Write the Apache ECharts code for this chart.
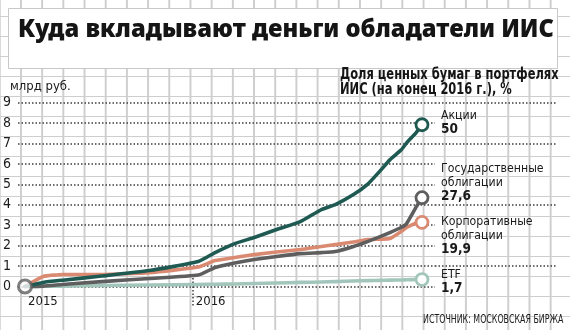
<!DOCTYPE html>
<html>
<head>
<meta charset="utf-8">
<script src="https://cdn.jsdelivr.net/npm/echarts@6/dist/echarts.min.js"></script>
<style>
  html, body { margin: 0; padding: 0; background: #fff; }
  /* graph-paper backdrop */
  #chart {
    width: 570px; height: 330px;
    background-color: #fff;
    background-image:
      linear-gradient(to right, #cecece 1.5px, transparent 1.5px),
      linear-gradient(to bottom, #cecece 1.5px, transparent 1.5px);
    background-size: 21.2px 20px;
    background-position: 20px 16px;
  }
</style>
</head>
<body>
<div id="chart"></div>
<script>
// Timeline position (months since the start of 2015)
const months = [0, 1.3, 2.7, 5.5, 8.9, 12.4, 13.6, 15, 16.4, 18, 19.7, 21.2, 22.2, 23.5, 24.5, 25.4, 26.1, 26.9, 27.3, 28, 28.4];

// Invested amounts, bn rubles
const stocks    = [0, 0.2, 0.31, 0.51, 0.78, 1.22, 1.66, 2.10, 2.40, 2.79, 3.18, 3.77, 4.01, 4.50, 5.0, 5.66, 6.2, 6.68, 7.03, 7.55, 7.92];
const govBonds  = [0, 0.02, 0.1, 0.24, 0.39, 0.56, 0.93, 1.15, 1.32, 1.47, 1.61, 1.66, 1.71, 1.96, 2.20, 2.44, 2.64, 2.89, 3.08, 3.91, 4.35];
const corpBonds = [0, 0.49, 0.59, 0.59, 0.68, 0.95, 1.27, 1.42, 1.56, 1.69, 1.81, 1.96, 2.05, 2.18, 2.30, 2.32, 2.35, 2.69, 2.89, 3.11, 3.14];
const etfs      = [0, 0.01, 0.02, 0.05, 0.07, 0.1, 0.11, 0.12, 0.15, 0.17, 0.2, 0.22, 0.24, 0.27, 0.29, 0.3, 0.31, 0.32, 0.33, 0.34, 0.34];

// Share in IIS portfolios at the end of 2016, %
const seriesNames = [['Акции'], ['Государственные', 'облигации'], ['Корпоративные', 'облигации'], ['ETF']];
const shares = ['50', '27,6', '19,9', '1,7'];

// Axis ticks
const yTicks = [0, 1, 2, 3, 4, 5, 6, 7, 8, 9];
const yearTicks = [0, 12];
const yearLabels = ['2015', '2016'];
const longGuideLevels = [1, 4, 7, 9];

const NARROW = '"DejaVu Sans Condensed", "Liberation Sans", sans-serif';
const DOTS = { type: [1.5, 2], width: 1.5, color: '#3c3c3c' };

const chart = echarts.init(document.getElementById('chart'), null, { renderer: 'canvas' });

function pairs(vals) { return months.map((m, i) => [m, vals[i]]); }
function labelText(idx) {
  return seriesNames[idx].map(s => '{n|' + s + '}').join('\n') + '\n{v|' + shares[idx] + '}';
}

const lastIdx = months.length - 1;
function lineSeries(idx, vals, color, dy) {
  return {
    type: 'line',
    xAxisIndex: 0, yAxisIndex: 0,
    data: pairs(vals),
    smooth: 0.15,
    showAllSymbol: true,
    symbol: (v, p) => p.dataIndex === lastIdx ? 'circle' : 'none',
    symbolSize: 12,
    itemStyle: { color: '#fff', borderColor: color, borderWidth: 2.8 },
    lineStyle: { color: color, width: 3.6, cap: 'round', join: 'round' },
    clip: false,
    endLabel: {
      show: true,
      formatter: () => labelText(idx),
      distance: 19,
      offset: [0, dy],
      align: 'left',
      rich: {
        n: { fontFamily: NARROW, fontSize: 12.2, color: '#1a1a1a', lineHeight: 13.6 },
        v: { fontFamily: NARROW, fontSize: 13.5, fontWeight: 'bold', color: '#1a1a1a', lineHeight: 13.6 }
      }
    },
    emphasis: { disabled: true },
    z: 3
  };
}

const option = {
  animation: false,
  backgroundColor: 'transparent',
  grid: [
    { left: 15, right: 135, top: 102.7, bottom: 43.5 },
    { left: 435, right: 12.5, top: 102.7, bottom: 43.5 }
  ],
  xAxis: [
    {
      type: 'value', gridIndex: 0, min: -0.5, max: 29.33,
      axisLine: { show: false }, splitLine: { show: false },
      axisTick: { show: true, customValues: [12], length: 21, lineStyle: DOTS },
      axisLabel: {
        show: true, customValues: yearTicks,
        formatter: v => yearLabels[yearTicks.indexOf(v)],
        align: 'left', padding: [0, 0, 0, 3], margin: 9,
        fontFamily: NARROW, fontSize: 13, color: '#1a1a1a'
      }
    },
    {
      type: 'value', gridIndex: 0, min: -0.5, max: 29.33, position: 'bottom',
      axisLine: { show: false }, splitLine: { show: false }, axisLabel: { show: false },
      axisTick: { show: true, inside: true, customValues: [12], length: 9, lineStyle: DOTS }
    },
    {
      type: 'value', gridIndex: 1, min: 0, max: 1, show: false
    }
  ],
  yAxis: [
    {
      type: 'value', gridIndex: 0, min: yTicks[0], max: yTicks[yTicks.length - 1], interval: 1,
      axisLine: { show: false }, axisTick: { show: false },
      axisLabel: { margin: 7, fontFamily: NARROW, fontSize: 14, color: '#1a1a1a' },
      splitLine: { show: true, lineStyle: DOTS }
    },
    {
      type: 'value', gridIndex: 1, min: yTicks[0], max: yTicks[yTicks.length - 1], interval: 1,
      axisLine: { show: false }, axisTick: { show: false }, axisLabel: { show: false },
      splitLine: {
        show: true,
        lineStyle: Object.assign({}, DOTS, {
          color: yTicks.map(t => longGuideLevels.includes(t) ? DOTS.color : 'rgba(0,0,0,0)')
        })
      }
    }
  ],
  series: [
    lineSeries(3, etfs, '#a2c6bb', 2),
    lineSeries(2, corpBonds, '#db8a72', 13.5),
    lineSeries(1, govBonds, '#5e5e5e', -15),
    lineSeries(0, stocks, '#1e5a51', -2.5),
    {
      // common starting point
      type: 'scatter', xAxisIndex: 0, yAxisIndex: 0,
      data: [[months[0], govBonds[0]]],
      symbolSize: 13,
      itemStyle: { color: '#fff', borderColor: '#5e5e5e', borderWidth: 3 },
      emphasis: { disabled: true },
      z: 5
    }
  ],
  graphic: [
    {
      type: 'rect', z: 10,
      shape: { x: 8.5, y: 8.5, width: 549, height: 60 },
      style: { fill: '#fff', stroke: '#c8c8c8', lineWidth: 1 }
    },
    {
      type: 'text', z: 11, x: 18, y: 30, scaleX: 0.952,
      style: {
        text: 'Куда вкладывают деньги обладатели ИИС',
        fontFamily: '"Noto Sans", sans-serif', fontWeight: 900, fontSize: 25,
        fill: '#151515', verticalAlign: 'middle'
      }
    },
    {
      type: 'text', z: 11, x: 340, y: 68, scaleX: 0.85,
      style: {
        text: 'Доля ценных бумаг в портфелях\nИИС (на конец 2016 г.), %',
        fontFamily: NARROW, fontWeight: 'bold', fontSize: 15, lineHeight: 14.5,
        fill: '#151515', verticalAlign: 'top'
      }
    },
    {
      type: 'text', z: 11, x: 10, y: 86.5,
      style: { text: 'млрд руб.', fontFamily: NARROW, fontSize: 13, fill: '#1a1a1a', verticalAlign: 'middle' }
    },
    {
      type: 'text', z: 11, x: 423, y: 319.5, scaleX: 0.7,
      style: { text: 'ИСТОЧНИК: МОСКОВСКАЯ БИРЖА', fontFamily: NARROW, fontSize: 12.5, fill: '#1a1a1a', verticalAlign: 'middle' }
    }
  ]
};

chart.setOption(option);
</script>
</body>
</html>
